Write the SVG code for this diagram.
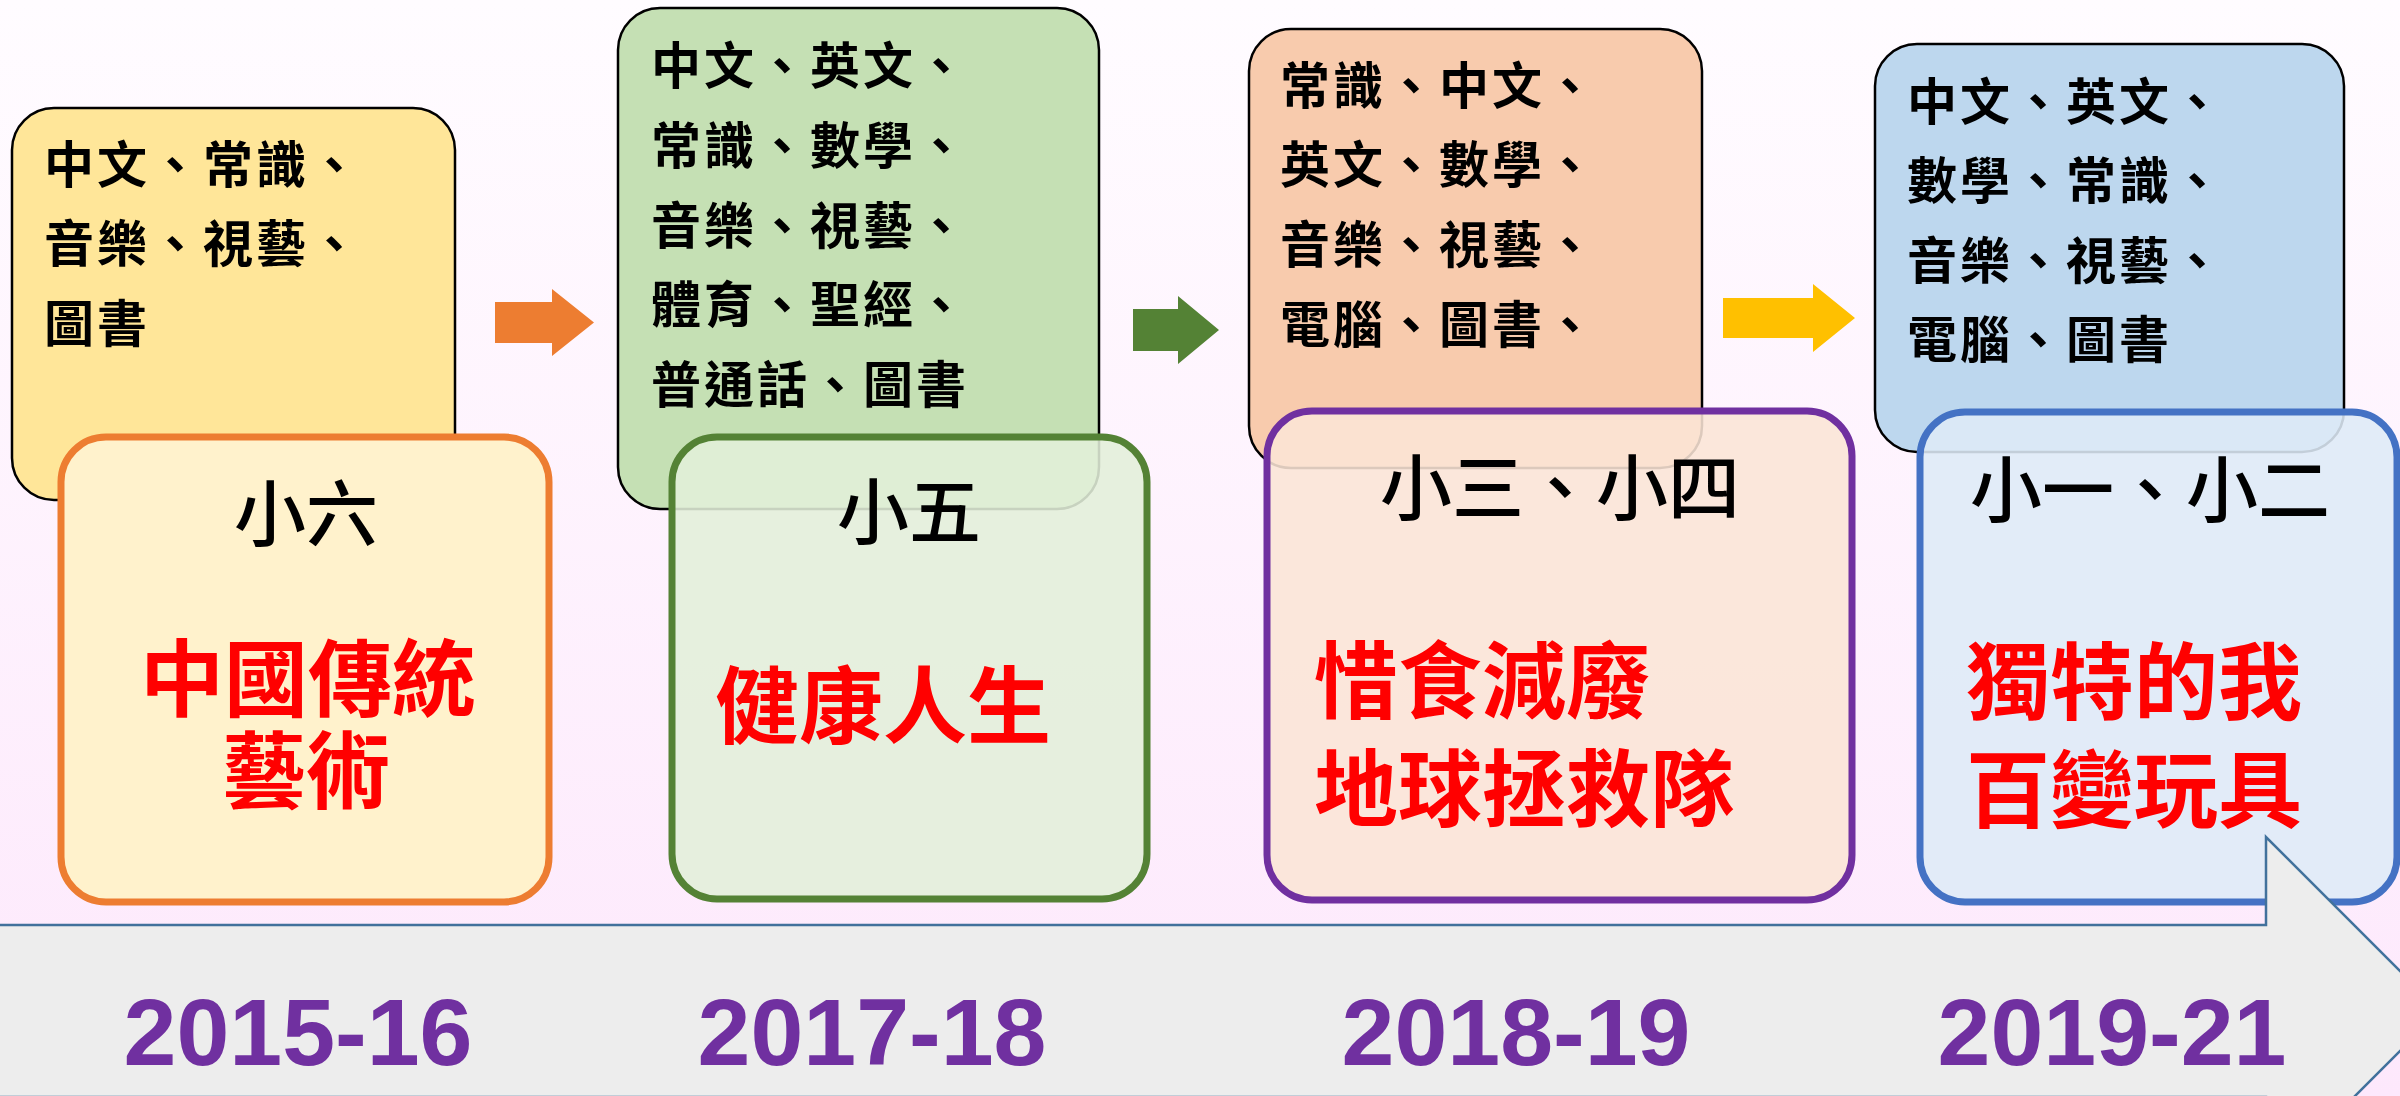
<svg xmlns="http://www.w3.org/2000/svg" width="2400" height="1096" viewBox="0 0 2400 1096">
  <defs>
    <linearGradient id="bg" x1="0" y1="0" x2="0" y2="1">
      <stop offset="0" stop-color="#fffcff"/>
      <stop offset="1" stop-color="#fde8fc"/>
    </linearGradient>
    <style>
      .top { stroke: #000; stroke-width: 2.5; }
      .bot { stroke-width: 7; }
      .list { font-family: "Noto Sans CJK TC", "Noto Sans CJK SC", sans-serif; font-weight: 700; font-size: 50px; letter-spacing: 3px; fill: #000; }
      .grade { font-family: "Noto Sans CJK TC", "Noto Sans CJK SC", sans-serif; font-weight: 500; font-size: 72px; fill: #000; text-anchor: middle; }
      .theme { font-family: "Noto Sans CJK TC", "Noto Sans CJK SC", sans-serif; font-weight: 700; font-size: 84px; fill: #ff0000; }
      .year { font-family: "Liberation Sans", Arial, sans-serif; font-weight: 700; font-size: 95px; fill: #7030a0; text-anchor: middle; }
    </style>
  </defs>

  <rect x="0" y="0" width="2400" height="1096" fill="url(#bg)"/>

  <!-- 2015-16 -->
  <g id="node-2015">
    <rect class="top" x="12" y="108" width="443" height="392" rx="42" fill="#ffe699"/>
    <text class="list" x="44" y="183">中文、常識、</text>
    <text class="list" x="44" y="262">音樂、視藝、</text>
    <text class="list" x="44" y="342">圖書</text>
    <rect class="bot" x="61" y="437" width="488" height="465" rx="45" fill="#fff2cc" stroke="#ed7d31"/>
    <text class="grade" x="306" y="540">小六</text>
    <text class="theme" text-anchor="middle"><tspan x="308" y="710">中國傳統</tspan><tspan x="306" y="802">藝術</tspan></text>
  </g>

  <!-- 2017-18 -->
  <g id="node-2017">
    <rect class="top" x="618" y="8" width="481" height="501" rx="42" fill="#c5e0b4"/>
    <text class="list" x="651" y="84">中文、英文、</text>
    <text class="list" x="651" y="164">常識、數學、</text>
    <text class="list" x="651" y="244">音樂、視藝、</text>
    <text class="list" x="651" y="323">體育、聖經、</text>
    <text class="list" x="651" y="403">普通話、圖書</text>
    <rect class="bot" x="672" y="437" width="475" height="462" rx="45" fill="#e2efda" fill-opacity="0.88" stroke="#548235"/>
    <text class="grade" x="909" y="538">小五</text>
    <text class="theme" x="715" y="737">健康人生</text>
  </g>

  <!-- 2018-19 -->
  <g id="node-2018">
    <rect class="top" x="1249" y="29" width="453" height="439" rx="42" fill="#f8cbad"/>
    <text class="list" x="1280" y="104">常識、中文、</text>
    <text class="list" x="1280" y="183">英文、數學、</text>
    <text class="list" x="1280" y="263">音樂、視藝、</text>
    <text class="list" x="1280" y="343">電腦、圖書、</text>
    <rect class="bot" x="1267" y="411" width="585" height="489" rx="45" fill="#fbe5d6" fill-opacity="0.88" stroke="#7030a0"/>
    <text class="grade" x="1560" y="514">小三、小四</text>
    <text class="theme"><tspan x="1314" y="712">惜食減廢</tspan><tspan x="1314" y="820">地球拯救隊</tspan></text>
  </g>

  <!-- 2019-21 -->
  <g id="node-2019">
    <rect class="top" x="1875" y="44" width="469" height="408" rx="42" fill="#bdd7ee"/>
    <text class="list" x="1907" y="120">中文、英文、</text>
    <text class="list" x="1907" y="199">數學、常識、</text>
    <text class="list" x="1907" y="279">音樂、視藝、</text>
    <text class="list" x="1907" y="358">電腦、圖書</text>
    <rect class="bot" x="1920" y="412" width="477" height="490" rx="45" fill="#deebf7" fill-opacity="0.88" stroke="#4472c4"/>
    <text class="grade" x="2150" y="516">小一、小二</text>
    <text class="theme"><tspan x="1966" y="713">獨特的我</tspan><tspan x="1966" y="821">百變玩具</tspan></text>
  </g>

  <!-- connectors -->
  <g id="connectors">
    <path d="M495,302 H552 V289 L594,322.5 L552,356 V343 H495 Z" fill="#ed7d31"/>
    <path d="M1133,309 H1178 V296 L1219,330 L1178,364 V351 H1133 Z" fill="#548235"/>
    <path d="M1723,298 H1813 V284 L1855,318 L1813,352 V338 H1723 Z" fill="#ffc000"/>
  </g>

  <!-- timeline -->
  <g id="timeline">
    <path d="M-10,925 H2266 V837 L2440,1011 L2266,1185 V1097 H-10 Z" fill="#ededed" stroke="#41719c" stroke-width="2.5"/>
    <text class="year" x="298" y="1065" textLength="349" lengthAdjust="spacingAndGlyphs">2015-16</text>
    <text class="year" x="872" y="1065" textLength="349" lengthAdjust="spacingAndGlyphs">2017-18</text>
    <text class="year" x="1516" y="1065" textLength="349" lengthAdjust="spacingAndGlyphs">2018-19</text>
    <text class="year" x="2112" y="1065" textLength="349" lengthAdjust="spacingAndGlyphs">2019-21</text>
  </g>
</svg>
